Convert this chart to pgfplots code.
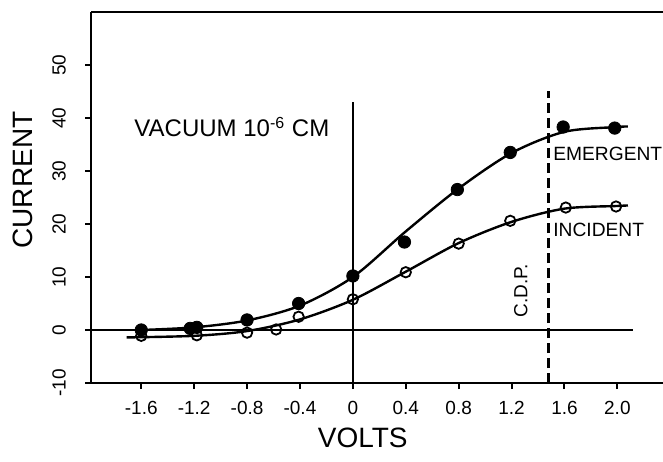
\documentclass[border=0pt]{standalone}
\usepackage{pgfplots}
\pgfplotsset{compat=1.18}
\usepackage{fontspec}
\setmainfont{Liberation Sans}
\begin{document}
\begin{tikzpicture}
\useasboundingbox (0,0) rectangle (331.5pt,230.5pt);
\begin{axis}[
  at={(45.5pt,39pt)}, anchor=south west,
  scale only axis, width=286pt, height=185.5pt,
  xmin=-1.98, xmax=2.345, ymin=-10, ymax=60,
  axis lines*=left,
  axis line style={line width=1.3pt},
  xtick={-1.6,-1.2,-0.8,-0.4,0,0.4,0.8,1.2,1.6,2.0},
  xticklabels={-1.6,-1.2,-0.8,-0.4,0,0.4,0.8,1.2,1.6,2.0},
  ytick={-10,0,10,20,30,40,50},
  tick align=outside,
  major tick length=3pt,
  tick style={line width=1pt, black},
  /pgf/number format/assume math mode=true,
  ticklabel style={font=\fontsize{9.5}{10}\selectfont},
  yticklabel style={rotate=90, anchor=south},
  yticklabel shift=6pt,
  xticklabel shift=2.5pt,
  clip=false,
]
% frame top
\draw[line width=1.3pt] (rel axis cs:0,1) -- (rel axis cs:1,1);
% reference lines
\addplot[black, line width=0.9pt] coordinates {(-1.98,0) (2.12,0)};
\addplot[black, line width=0.9pt] coordinates {(0,-10) (0,43)};
\addplot[black, line width=1.2pt, dash pattern=on 5pt off 2.5pt] coordinates {(1.48,-10) (1.48,45)};
% fitted curves
\addplot[black, line width=1.2pt, smooth] coordinates {
 (-1.6,0) (-1.2,0.5) (-0.8,1.8) (-0.4,4.6) (0,10) (0.4,18.6) (0.8,26.7) (1.2,33.4) (1.6,37.4) (2.0,38.3) (2.08,38.4)};
\addplot[black, line width=1.2pt, smooth] coordinates {
 (-1.71,-1.4) (-1.2,-1.1) (-0.8,-0.2) (-0.4,2.0) (0,5.7) (0.4,11) (0.8,16.4) (1.2,20.4) (1.6,22.9) (2.0,23.4) (2.08,23.5)};
% emergent (filled)
\addplot[only marks, mark=*, mark size=3.1pt, black] coordinates {
 (-1.6,0) (-1.23,0.3) (-1.18,0.5) (-0.8,1.9) (-0.41,5.0) (0,10.2) (0.39,16.6) (0.79,26.5) (1.19,33.5) (1.59,38.3) (1.98,38.1)};
% incident (open)
\addplot[only marks, mark=o, mark size=2.6pt, black, line width=0.9pt, mark options={fill=white}] coordinates {
 (-1.6,-1.1) (-1.18,-1.0) (-0.8,-0.5) (-0.58,0.1) (-0.41,2.5) (0,5.8) (0.4,10.9) (0.8,16.3) (1.19,20.6) (1.61,23.1) (1.99,23.3)};
% texts
\node[font=\fontsize{12}{14}\selectfont] at (axis cs:-0.915,38.3) {VACUUM 10\textsuperscript{-6} CM};
\node[anchor=west, inner sep=0pt, font=\fontsize{9.6}{11}\selectfont] at (axis cs:1.513,33.3) {EMERGENT};
\node[anchor=west, inner sep=0pt, font=\fontsize{9.6}{11}\selectfont] at (axis cs:1.513,18.8) {INCIDENT};
\node[rotate=90, font=\fontsize{9.5}{10}\selectfont] at (axis cs:1.27,7.4) {C.D.P.};
\node[rotate=90, font=\fontsize{14}{16}\selectfont] at (rel axis cs:-0.119,0.547) {CURRENT};
\node[font=\fontsize{14}{16}\selectfont] at (rel axis cs:0.475,-0.148) {VOLTS};
\end{axis}
\end{tikzpicture}
\end{document}
